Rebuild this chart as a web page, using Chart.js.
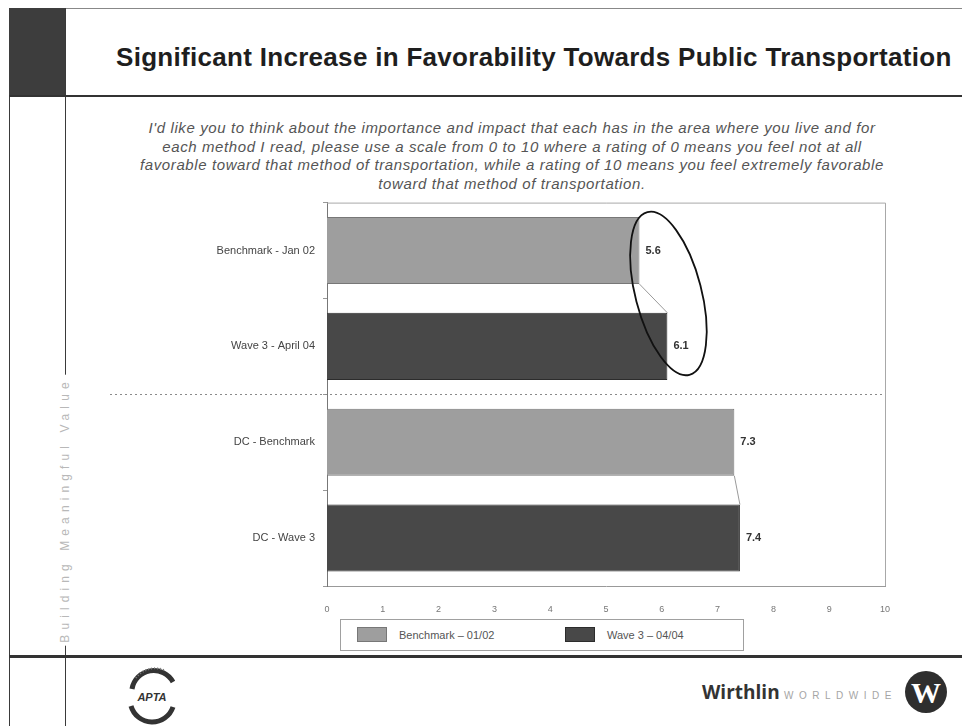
<!DOCTYPE html>
<html>
<head>
<meta charset="utf-8">
<title>Favorability Towards Public Transportation</title>
<script src="https://cdn.jsdelivr.net/npm/chart.js@4.4.0/dist/chart.umd.min.js"></script>
<style>
    body {
        margin: 0;
        width: 962px;
        height: 726px;
        position: relative;
        overflow: hidden;
        background: #fff;
        font-family: "Liberation Sans", Arial, sans-serif;
    }
    .abs { position: absolute; }
    .line { position: absolute; background: #3a3a3a; }
    #title {
        left: 116px; top: 42px;
        font-size: 26px; font-weight: bold; color: #1e1e1e;
        letter-spacing: 0.3px; white-space: nowrap;
    }
    #question {
        left: 112px; width: 800px; top: 119px;
        font-size: 15px; font-style: italic; color: #555;
        line-height: 18.5px; text-align: center; letter-spacing: 0.6px;
        white-space: nowrap;
    }
    #sideText {
        left: 65px; top: 510px;
        transform: translate(-50%, -50%) rotate(-90deg);
        background: #fff; color: #b8b8b8;
        font-size: 12px; letter-spacing: 5.1px; white-space: nowrap;
        padding: 0 3px;
    }
    #chartBox { left: 70px; top: 188px; }
    #legend {
        left: 340px; top: 619px; width: 404px; height: 32px;
        border: 1px solid #a0a0a0; box-sizing: border-box;
        font-size: 11px; color: #555;
    }
    .legendItem { position: absolute; top: 7px; height: 16px; line-height: 16px; white-space: nowrap; }
    .legendItem span.sw {
        display: inline-block; width: 30px; height: 15px; vertical-align: top;
        margin-right: 12px; box-sizing: border-box;
    }
    #wirthlin { left: 702px; top: 679px; white-space: nowrap; }
    #wirthlin b { font-family: "Open Sans", sans-serif; font-size: 19px; color: #333; }
    #wirthlin span { font-size: 10px; color: #a5a5a5; letter-spacing: 5.5px; }
</style>
</head>
<body>

<!-- page frame -->
<div class="line" style="left:9px;top:8px;width:953px;height:1px;background:#888"></div>
<div class="line" style="left:9px;top:8px;width:1px;height:718px"></div>
<div class="line" style="left:9px;top:8px;width:56px;height:87px;background:#3d3d3d"></div>
<div class="line" style="left:65px;top:8px;width:1px;height:718px"></div>
<div class="line" style="left:9px;top:95px;width:953px;height:2px;background:#333"></div>
<div class="line" style="left:9px;top:655px;width:953px;height:3px;background:#333"></div>

<div id="title" class="abs">Significant Increase in Favorability Towards Public Transportation</div>
<div id="question" class="abs">I'd like you to think about the importance and impact that each has in the area where you live and for<br>
each method I read, please use a scale from 0 to 10 where a rating of 0 means you feel not at all<br>
favorable toward that method of transportation, while a rating of 10 means you feel extremely favorable<br>
toward that method of transportation.</div>
<div id="sideText" class="abs">Building Meaningful Value</div>

<div id="chartBox" class="abs"><canvas id="chart" width="892" height="430"></canvas></div>
<div id="legend" class="abs"></div>

<!-- footer logos -->
<svg class="abs" style="left:120px;top:662px" width="64" height="64">
    <path d="M12 27 A22 22 0 0 1 53 20" stroke="#333" stroke-width="5" fill="none"/>
    <path d="M11 44 A22 22 0 0 0 53 45" stroke="#333" stroke-width="5" fill="none"/>
    <path d="M16 16 A24 24 0 0 1 44 8" stroke="#777" stroke-width="2" stroke-dasharray="1 2" fill="none"/>
    <text x="32" y="39" font-size="11" font-weight="bold" font-style="italic" text-anchor="middle" fill="#333">APTA</text>
</svg>
<div id="wirthlin" class="abs"><b>Wirthlin</b> <span>WORLDWIDE</span></div>
<svg class="abs" style="left:904px;top:670px" width="44" height="44">
    <circle cx="22" cy="22" r="21" fill="#2e2e2e"/>
    <text x="22" y="33" font-size="30" font-weight="bold" text-anchor="middle" fill="#fff" font-family="Liberation Serif">W</text>
</svg>

<script>
const categories = ['Benchmark - Jan 02', 'Wave 3 - April 04', 'DC - Benchmark', 'DC - Wave 3'];
const seriesNames = ['Benchmark – 01/02', 'Wave 3 – 04/04'];
const benchmarkValues = [5.6, null, 7.3, null];
const wave3Values = [null, 6.1, null, 7.4];
const xMin = 0;
const xMax = 10;

const fillColors = ['#9e9e9e', '#484848'];
const edgeColors = ['#777777', '#2c2c2c'];

let favorChart = null;

function buildLegend() {
    const legend = document.querySelector('#legend');
    const lefts = [16, 224];
    seriesNames.forEach((name, i) => {
        legend.insertAdjacentHTML('beforeend', `
            <div class="legendItem" style="left:${lefts[i]}px">
                <span class="sw" style="background:${fillColors[i]};border:1px solid ${edgeColors[i]}"></span>${name}
            </div>`);
    });
}

// extra drawing: plot frame, dotted divider, series lines, value labels, ring
const extrasPlugin = {
    id: 'extras',
    afterDatasetsDraw(chart) {
        const ctx = chart.ctx;
        const area = chart.chartArea;
        const ys = chart.scales.y;
        ctx.save();

        // top and right edges of the plot box
        ctx.strokeStyle = '#a8a8a8';
        ctx.lineWidth = 1;
        ctx.beginPath();
        ctx.moveTo(area.left, area.top + 0.5);
        ctx.lineTo(area.right + 0.5, area.top + 0.5);
        ctx.lineTo(area.right + 0.5, area.bottom);
        ctx.stroke();

        // dotted line between the two groups
        const midY = Math.round((ys.getPixelForValue(1) + ys.getPixelForValue(2)) / 2) + 0.5;
        ctx.strokeStyle = '#8a8a8a';
        ctx.setLineDash([2, 3]);
        ctx.beginPath();
        ctx.moveTo(40, midY);
        ctx.lineTo(area.right, midY);
        ctx.stroke();
        ctx.setLineDash([]);

        const bench = chart.getDatasetMeta(0).data;
        const wave = chart.getDatasetMeta(1).data;

        // series lines joining bar ends
        ctx.strokeStyle = '#9a9a9a';
        [[0, 1], [2, 3]].forEach(([a, b]) => {
            const top = bench[a];
            const bottom = wave[b];
            ctx.beginPath();
            ctx.moveTo(top.x, top.y + top.height / 2);
            ctx.lineTo(bottom.x, bottom.y - bottom.height / 2);
            ctx.stroke();
        });

        // value labels
        ctx.font = 'bold 11px "Liberation Sans", Arial, sans-serif';
        ctx.fillStyle = '#333';
        ctx.textBaseline = 'middle';
        chart.data.datasets.forEach((ds, di) => {
            chart.getDatasetMeta(di).data.forEach((bar, i) => {
                if (ds.data[i] == null) return;
                ctx.fillText(ds.data[i].toFixed(1), bar.x + 6, bar.y);
            });
        });

        // ring around the first pair
        const cx = (bench[0].x + wave[1].x) / 2 + 15;
        const cy = (bench[0].y + wave[1].y) / 2 - 5;
        ctx.strokeStyle = '#111';
        ctx.lineWidth = 1.8;
        ctx.beginPath();
        ctx.ellipse(cx, cy, 33, 84, -14.5 * Math.PI / 180, 0, Math.PI * 2);
        ctx.stroke();

        ctx.restore();
    }
};

function createChart() {
    const chartContainer = document.querySelector('#chart');

    favorChart = new Chart(chartContainer, {
        type: 'bar',
        data: {
            labels: categories,
            datasets: [
                { label: seriesNames[0], data: benchmarkValues, backgroundColor: fillColors[0], borderColor: edgeColors[0], borderWidth: 1 },
                { label: seriesNames[1], data: wave3Values, backgroundColor: fillColors[1], borderColor: edgeColors[1], borderWidth: 1 },
            ]
        },
        options: {
            indexAxis: 'y',
            responsive: false,
            animation: false,
            barPercentage: 0.7,
            categoryPercentage: 1,
            layout: { padding: { top: 9, right: 77, bottom: 0, left: 0 } },
            plugins: {
                legend: { display: false },
                title: { display: false },
                tooltip: { enabled: false }
            },
            scales: {
                x: {
                    stacked: true,
                    min: xMin,
                    max: xMax,
                    ticks: { stepSize: 1, padding: 10, color: '#777', font: { size: 9 } },
                    grid: { display: false },
                    border: { color: '#999' },
                    afterFit: scale => { scale.height = 32; }
                },
                y: {
                    stacked: true,
                    ticks: { padding: 8, color: '#444', font: { size: 11 } },
                    grid: { display: true, drawOnChartArea: false, tickLength: 4, color: '#999' },
                    border: { color: '#777' },
                    afterFit: scale => { scale.width = 257; }
                }
            }
        },
        plugins: [extrasPlugin]
    });
}

buildLegend();
createChart();
</script>
</body>
</html>
